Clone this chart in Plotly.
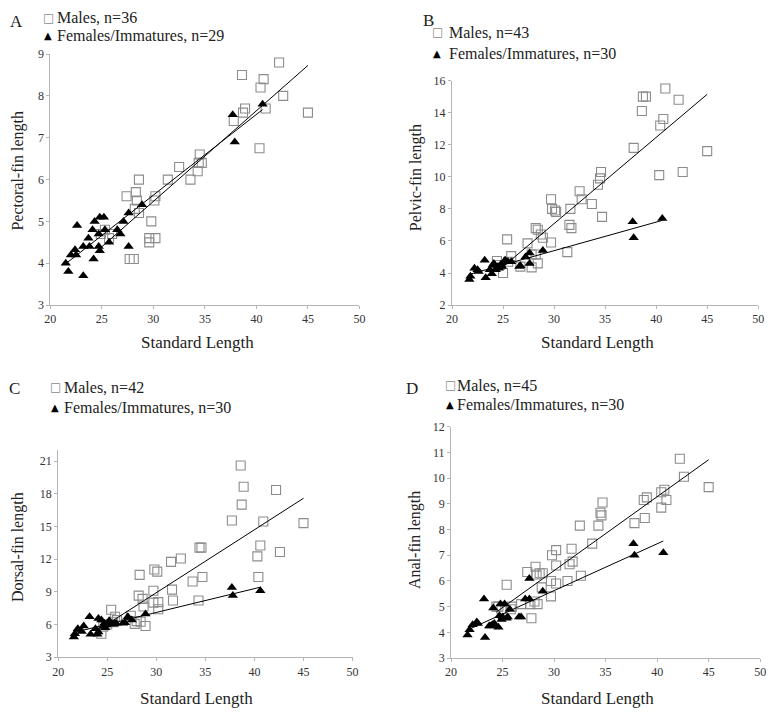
import numpy as np
import plotly.graph_objects as go

# ---------------- data ----------------
# Panel A: pectoral-fin length
ma_x = [24.9, 25.3, 25.7, 26.0, 27.4, 27.7, 28.1, 28.2, 28.3, 28.4, 28.6, 28.6, 29.6, 29.6, 29.8, 30.1, 30.2, 30.2,
        31.4, 32.5, 33.6, 34.3, 34.4, 34.5, 34.7, 37.8, 38.6, 38.7, 38.9, 40.3, 40.4, 40.7, 40.9, 42.2, 42.6, 45.0]
ma_y = [4.7, 4.8, 4.6, 4.7, 5.6, 4.1, 4.1, 5.3, 5.7, 5.5, 6.0, 5.2, 4.6, 4.5, 5.0, 5.5, 5.6, 4.6,
        6.0, 6.3, 6.0, 6.2, 6.4, 6.6, 6.4, 7.4, 8.5, 7.6, 7.7, 6.75, 8.2, 8.4, 7.7, 8.8, 8.0, 7.6]
fa_x = [21.5, 21.75, 22.0, 22.4, 22.5, 22.6, 23.2, 23.2, 23.7, 23.8, 24.1, 24.2, 24.3, 24.7, 24.7, 24.8, 24.8,
        25.2, 25.3, 25.7, 26.5, 26.8, 27.1, 27.6, 27.6, 28.9, 37.7, 37.9, 40.6]
fa_y = [4.0, 3.8, 4.2, 4.32, 4.2, 4.9, 3.7, 4.4, 4.6, 4.4, 4.8, 4.1, 5.0, 4.4, 4.7, 5.1, 4.3,
        5.1, 4.8, 4.5, 4.8, 4.7, 5.0, 5.2, 4.4, 5.4, 7.55, 6.9, 7.8]

# Panel B: pelvic-fin length
mb_x = [24.4, 24.7, 25.0, 25.4, 25.5, 25.8, 26.7, 27.4, 27.8, 27.8, 28.2, 28.2, 28.4, 28.4, 28.7, 28.9, 29.7, 29.8,
        29.7, 30.1, 30.2, 31.3, 31.5, 31.6, 31.7, 32.5, 32.7, 33.7, 34.3, 34.5, 34.6, 34.7, 37.8, 38.6, 38.7, 39.0,
        40.3, 40.4, 40.7, 40.9, 42.2, 42.6, 45.0]
mb_y = [4.75, 4.5, 4.0, 6.1, 4.7, 5.05, 4.4, 5.85, 4.35, 5.15, 5.15, 6.8, 6.7, 4.6, 6.4, 6.2, 8.6, 8.0,
        5.9, 7.9, 7.8, 5.3, 7.0, 8.0, 6.8, 9.1, 8.6, 8.3, 9.5, 9.9, 10.3, 7.5, 11.8, 14.1, 15.0, 15.0,
        10.1, 13.2, 13.6, 15.5, 14.8, 10.3, 11.6]
fb_x = [21.7, 21.8, 22.2, 22.5, 22.6, 23.2, 23.3, 23.7, 23.9, 24.0, 24.1, 24.3, 24.5, 24.6, 24.8, 24.9, 25.1,
        25.2, 25.4, 25.5, 25.8, 26.6, 26.7, 27.2, 27.6, 27.6, 28.9, 37.7, 37.8, 40.6]
fb_y = [3.6, 3.8, 4.3, 4.2, 4.1, 4.8, 3.7, 4.2, 3.95, 4.5, 4.6, 4.2, 4.4, 4.3, 4.55, 4.4, 4.7,
        4.8, 4.7, 4.7, 4.7, 4.4, 4.45, 5.0, 5.25, 4.6, 5.4, 7.2, 6.2, 7.4]

# Panel C: dorsal-fin length
mc_x = [24.4, 24.6, 25.0, 25.4, 25.6, 25.8, 26.0, 27.4, 27.8, 28.0, 28.2, 28.3, 28.4, 28.6, 28.7, 28.9, 29.7, 29.8,
        29.7, 30.1, 30.2, 30.2, 31.5, 31.6, 31.7, 32.5, 33.7, 34.3, 34.4, 34.6, 34.7, 37.7, 38.6, 38.7, 38.9,
        40.3, 40.4, 40.6, 40.9, 42.2, 42.6, 45.0]
mc_y = [5.15, 5.8, 6.0, 7.35, 6.2, 6.7, 6.4, 6.8, 6.05, 6.3, 8.65, 10.55, 6.25, 8.35, 7.65, 5.85, 9.1, 11.05,
        8.0, 10.85, 8.05, 7.4, 11.75, 9.2, 8.2, 12.05, 9.95, 8.2, 13.05, 13.05, 10.35, 15.55, 20.6, 17.0, 18.65,
        12.25, 10.35, 13.25, 15.45, 18.35, 12.65, 15.3]
fc_x = [21.6, 21.7, 22.0, 22.4, 22.6, 23.2, 23.3, 23.8, 24.0, 24.1, 24.1, 24.4, 24.6, 24.7, 24.8, 24.9, 25.0,
        25.2, 25.4, 25.6, 25.7, 25.9, 26.6, 26.8, 27.1, 27.5, 28.9, 37.7, 37.8, 40.6]
fc_y = [4.85, 5.15, 5.6, 5.35, 5.85, 6.7, 5.1, 5.6, 5.1, 6.55, 5.3, 6.4, 5.8, 6.1, 5.7, 5.95, 6.1,
        6.35, 6.05, 6.05, 6.05, 6.1, 6.1, 6.15, 6.7, 6.4, 6.95, 9.4, 8.65, 9.1]

# Panel D: anal-fin length
md_x = [24.4, 24.6, 24.9, 25.4, 25.8, 25.9, 26.8, 27.4, 27.7, 27.8, 28.1, 28.2, 28.3, 28.4, 28.6, 28.8, 28.9, 29.7,
        29.7, 29.8, 30.2, 30.2, 30.2, 31.3, 31.5, 31.7, 31.8, 32.5, 32.6, 33.7, 34.3, 34.5, 34.6, 34.7, 37.8,
        38.7, 38.8, 39.0, 40.4, 40.4, 40.7, 40.9, 42.2, 42.6, 45.0]
md_y = [5.0, 5.0, 4.9, 5.85, 4.9, 5.0, 5.1, 6.35, 5.1, 4.55, 5.2, 6.55, 6.25, 5.1, 6.3, 5.75, 6.3, 6.0,
        5.4, 7.0, 6.6, 7.2, 5.9, 6.0, 6.65, 7.25, 6.75, 8.15, 6.2, 7.45, 8.15, 8.65, 8.55, 9.05, 8.25,
        9.15, 8.45, 9.25, 9.45, 8.85, 9.55, 9.15, 10.75, 10.05, 9.65]
fd_x = [21.6, 21.8, 22.1, 22.5, 22.6, 23.2, 23.3, 23.7, 23.8, 24.0, 24.1, 24.2, 24.6, 24.7, 24.8, 24.9, 25.0,
        25.2, 25.4, 25.5, 25.7, 26.6, 26.8, 27.2, 27.6, 27.6, 28.9, 37.7, 37.8, 40.6]
fd_y = [3.9, 4.1, 4.3, 4.4, 4.35, 5.3, 3.8, 4.25, 4.25, 4.3, 4.95, 4.35, 4.2, 4.65, 5.1, 4.5, 4.6,
        5.1, 4.55, 4.6, 4.9, 4.6, 4.6, 5.3, 6.1, 5.3, 5.6, 7.45, 7.0, 7.1]

panel_letters = ["A", "B", "C", "D"]
y_titles = ["Pectoral-fin length", "Pelvic-fin length", "Dorsal-fin length", "Anal-fin length"]
x_title = "Standard Length"
male_labels = ["Males, n=36", "Males, n=43", "Males, n=42", "Males, n=45"]
female_labels = ["Females/Immatures, n=29", "Females/Immatures, n=30",
                 "Females/Immatures, n=30", "Females/Immatures, n=30"]
y_ranges = [(3, 9), (2, 16), (3, 22), (3, 12)]
y_dticks = [1, 2, 3, 1]
x_range = (20, 50)
x_dtick = 5

males = [(ma_x, ma_y), (mb_x, mb_y), (mc_x, mc_y), (md_x, md_y)]
females = [(fa_x, fa_y), (fb_x, fb_y), (fc_x, fc_y), (fd_x, fd_y)]

# ---------------- layout geometry (pixels) ----------------
W, H = 778, 720
boxes = [(45, 359, 48, 304), (453, 764, 75, 304), (53, 352, 452, 663), (452, 766, 428, 664)]
# legend: glyph centre x, text start x, row-1 centre y, row-2 centre y
legend_geom = [(43, 50, 11, 29), (438, 448, 26, 47), (50, 57, 388, 408), (451, 456, 386, 405)]
letter_pos = [(11, 15), (429, 14), (9, 389), (412, 389)]
xtitle_pos = [(194, 342), (601, 342), (193, 705), (601, 705)]
ytitle_pos = [(12, 167), (416, 174), (12, 551), (416, 544)]

FONT = "Liberation Serif"
GLYPH_FONT = "DejaVu Sans"
AXIS_COL = "#b5b5b5"
MALE_COL = "#8c8c8c"
TXT = "#222222"

fig = go.Figure()
layout = dict(
    width=W, height=H, margin=dict(l=0, r=0, t=0, b=0),
    paper_bgcolor="white", plot_bgcolor="white",
    font=dict(family=FONT, color=TXT), showlegend=False,
)
annotations = []


def ann(text, xp, yp, size, color=TXT, family=FONT, xanchor="left", angle=0):
    return dict(text=text, x=xp / W, y=1 - yp / H, xref="paper", yref="paper", showarrow=False,
                font=dict(family=family, size=size, color=color), xanchor=xanchor, yanchor="middle",
                textangle=angle)


for i in range(4):
    n = "" if i == 0 else str(i + 1)
    xa, ya = "x" + n, "y" + n
    mx, my = males[i]
    fx, fy = females[i]
    fig.add_trace(go.Scatter(
        x=mx, y=my, mode="markers", name=male_labels[i], xaxis=xa, yaxis=ya,
        marker=dict(symbol="square-open", size=9, color=MALE_COL, line=dict(width=1.1)),
    ))
    fig.add_trace(go.Scatter(
        x=fx, y=fy, mode="markers", name=female_labels[i], xaxis=xa, yaxis=ya,
        marker=dict(symbol="triangle-up", size=9, color="black"),
    ))
    # linear trend lines (least squares fit of each group)
    for gx, gy in (males[i], females[i]):
        k, b = np.polyfit(gx, gy, 1)
        lx = np.array([min(gx), max(gx)])
        fig.add_trace(go.Scatter(
            x=lx, y=k * lx + b, mode="lines", xaxis=xa, yaxis=ya,
            line=dict(color="black", width=1), hoverinfo="skip",
        ))

    l, r, t, btm = boxes[i]
    axis_common = dict(
        showgrid=False, zeroline=False, showline=True, linecolor=AXIS_COL, linewidth=1,
        ticks="outside", ticklen=3, tickcolor=AXIS_COL,
        tickfont=dict(family=FONT, size=12, color="#333"),
    )
    layout["xaxis" + n] = dict(
        axis_common, domain=[l / W, r / W], range=list(x_range), dtick=x_dtick, tick0=20, anchor=ya,
    )
    layout["yaxis" + n] = dict(
        axis_common, domain=[1 - btm / H, 1 - t / H], range=list(y_ranges[i]), dtick=y_dticks[i],
        tick0=y_ranges[i][0], anchor=xa,
    )

    # axis titles
    xt, yt = xtitle_pos[i]
    annotations.append(ann(x_title, xt, yt, 17, xanchor="center"))
    xt, yt = ytitle_pos[i]
    annotations.append(ann(y_titles[i], xt, yt, 16, xanchor="center", angle=-90))

    # legend rows
    gx0, tx0, r1, r2 = legend_geom[i]
    annotations.append(ann("□", gx0, r1, 12, MALE_COL, GLYPH_FONT, "center"))
    annotations.append(ann(male_labels[i], tx0, r1, 16))
    annotations.append(ann("▲", gx0, r2, 10, "black", GLYPH_FONT, "center"))
    annotations.append(ann(female_labels[i], tx0, r2, 16))

    px_, py_ = letter_pos[i]
    annotations.append(ann(panel_letters[i], px_, py_, 17, xanchor="center"))

layout["annotations"] = annotations
fig.update_layout(**layout)
fig.write_html(
    "out.html",
    config={"displayModeBar": False},
    post_script="document.body.style.margin='0';document.body.style.overflow='hidden';",
)
